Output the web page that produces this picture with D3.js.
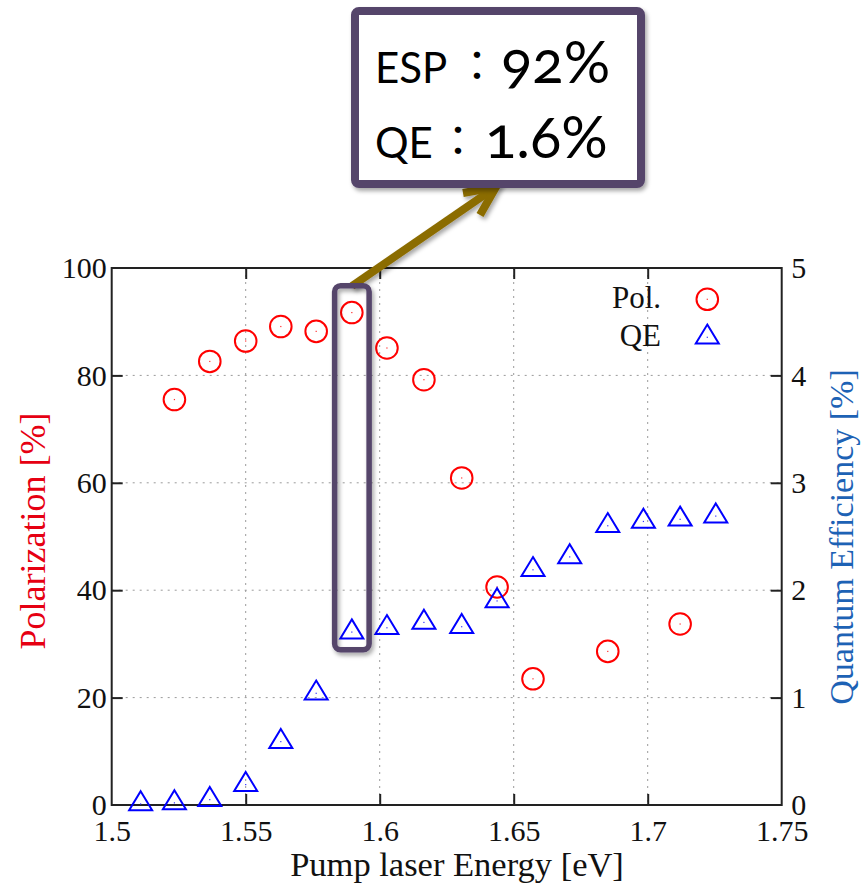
<!DOCTYPE html>
<html>
<head>
<meta charset="utf-8">
<script src="https://cdn.jsdelivr.net/npm/d3@7"></script>
<style>
  html, body { margin: 0; padding: 0; background: #fff; }
  svg { display: block; }
  .onum { font-variant-numeric: oldstyle-nums; font-feature-settings: "onum" 1; }
</style>
</head>
<body>
<svg id="chart" width="863" height="886"></svg>
<script>
// ---------- data ----------
const xTicks = [1.5, 1.55, 1.6, 1.65, 1.7, 1.75];
const xTickLabels = ["1.5", "1.55", "1.6", "1.65", "1.7", "1.75"];
const yTicks = [0, 20, 40, 60, 80, 100];
const yTickLabels = ["0", "20", "40", "60", "80", "100"];
const y2Ticks = [0, 1, 2, 3, 4, 5];
const y2TickLabels = ["0", "1", "2", "3", "4", "5"];

const polEnergy = [1.5234, 1.5366, 1.5500, 1.5631, 1.5763, 1.5896, 1.6027, 1.6165, 1.6306, 1.6438, 1.6572, 1.6851, 1.7121];
const polValue  = [75.5, 82.6, 86.4, 89.1, 88.2, 91.7, 85.1, 79.2, 60.9, 40.6, 23.5, 28.6, 33.7];

const qeEnergy = [1.5108, 1.5234, 1.5366, 1.5500, 1.5631, 1.5763, 1.5896, 1.6027, 1.6165, 1.6306, 1.6438, 1.6572, 1.6709, 1.6851, 1.6984, 1.7121, 1.7254];
const qeValue  = [0.01, 0.02, 0.05, 0.19, 0.59, 1.04, 1.61, 1.65, 1.70, 1.66, 1.90, 2.19, 2.31, 2.60, 2.64, 2.66, 2.69];

const legendLabels = ["Pol.", "QE"];
const xTitle = "Pump laser Energy [eV]";
const yTitle = "Polarization [%]";
const y2Title = "Quantum Efficiency [%]";
const highlightEnergy = 1.5896;
const noteLines = [["ESP", "92%"], ["QE", "1.6%"]];

// ---------- layout ----------
const L = 111.7, R = 781.7, T = 268, B = 805;
const serif = "'Liberation Serif', 'Times New Roman', serif";
const svg = d3.select("#chart");

const x = d3.scaleLinear().domain([1.5, 1.75]).range([L, R]);
const y = d3.scaleLinear().domain([0, 100]).range([B, T]);
const y2 = d3.scaleLinear().domain([0, 5]).range([B, T]);

const defs = svg.append("defs");
const sh = defs.append("filter").attr("id", "shadow").attr("x", "-20%").attr("y", "-20%").attr("width", "150%").attr("height", "150%");
sh.append("feDropShadow").attr("dx", 2).attr("dy", 3).attr("stdDeviation", 2).attr("flood-color", "#000").attr("flood-opacity", 0.35);

// grid
const grid = svg.append("g").attr("stroke", "#9a9a9a").attr("stroke-width", 1).attr("stroke-dasharray", "2,5");
grid.selectAll("line.gx").data(xTicks.slice(1, -1)).join("line")
  .attr("x1", d => x(d)).attr("x2", d => x(d)).attr("y1", T).attr("y2", B);
grid.selectAll("line.gy").data(yTicks.slice(1, -1)).join("line")
  .attr("y1", d => y(d)).attr("y2", d => y(d)).attr("x1", L).attr("x2", R);

// axes with inner ticks
const tickLen = 11;
const axB = svg.append("g").attr("transform", `translate(0,${B})`)
  .call(d3.axisBottom(x).tickValues(xTicks).tickSize(-tickLen).tickFormat((d, i) => xTickLabels[i]).tickPadding(15));
const axT = svg.append("g").attr("transform", `translate(0,${T})`)
  .call(d3.axisTop(x).tickValues(xTicks).tickSize(-tickLen).tickFormat(""));
const axL = svg.append("g").attr("transform", `translate(${L},0)`)
  .call(d3.axisLeft(y).tickValues(yTicks).tickSize(-tickLen).tickFormat((d, i) => yTickLabels[i]).tickPadding(5));
const axR = svg.append("g").attr("transform", `translate(${R},0)`)
  .call(d3.axisRight(y2).tickValues(y2Ticks).tickSize(-tickLen).tickFormat((d, i) => y2TickLabels[i]).tickPadding(9.5));

[axB, axT, axL, axR].forEach(a => {
  a.attr("font-family", serif).attr("font-size", 30);
  a.select(".domain").remove();
  a.selectAll(".tick line").attr("stroke", "#222").attr("stroke-width", 2);
  a.selectAll(".tick text").style("font-family", serif).style("font-size", "30px").attr("fill", "#111");
});
// hide end ticks at corners
axB.selectAll(".tick line").filter(d => d === 1.5 || d === 1.75).remove();
axT.selectAll(".tick line").filter(d => d === 1.5 || d === 1.75).remove();
axL.selectAll(".tick line").filter(d => d === 0 || d === 100).remove();
axR.selectAll(".tick line").filter(d => d === 0 || d === 5).remove();
axB.selectAll(".tick text").attr("dy", "0.71em");

// frame
svg.append("rect").attr("x", L).attr("y", T).attr("width", R - L).attr("height", B - T)
  .attr("fill", "none").attr("stroke", "#222").attr("stroke-width", 2);

// markers
const triPath = "M0,-12.7L11.5,6.3L-11.5,6.3Z";
const polG = svg.append("g");
polEnergy.forEach((e, i) => {
  polG.append("circle").attr("cx", x(e)).attr("cy", y(polValue[i])).attr("r", 10.8)
    .attr("fill", "none").attr("stroke", "#ff0000").attr("stroke-width", 2);
  polG.append("rect").attr("x", x(e) - 0.6).attr("y", y(polValue[i]) - 0.6).attr("width", 1.2).attr("height", 1.2).attr("fill", "#ff3030");
});
const qeG = svg.append("g");
qeEnergy.forEach((e, i) => {
  qeG.append("path").attr("d", triPath).attr("transform", `translate(${x(e)},${y2(qeValue[i])})`)
    .attr("fill", "none").attr("stroke", "#0000ff").attr("stroke-width", 2).attr("stroke-linejoin", "miter");
  qeG.append("rect").attr("x", x(e) - 0.6).attr("y", y2(qeValue[i]) - 0.6).attr("width", 1.2).attr("height", 1.2).attr("fill", "#3030ff");
});

// legend
svg.append("text").attr("x", 661).attr("y", 308).attr("text-anchor", "end")
  .style("font-family", serif).style("font-size", "31px").attr("fill", "#111").text(legendLabels[0]);
svg.append("text").attr("x", 661).attr("y", 346).attr("text-anchor", "end")
  .style("font-family", serif).style("font-size", "31px").attr("fill", "#111").text(legendLabels[1]);
svg.append("circle").attr("cx", 707.3).attr("cy", 299.3).attr("r", 10.8)
  .attr("fill", "none").attr("stroke", "#ff0000").attr("stroke-width", 2);
svg.append("rect").attr("x", 706.7).attr("y", 298.7).attr("width", 1.2).attr("height", 1.2).attr("fill", "#ff3030");
svg.append("path").attr("d", triPath).attr("transform", "translate(707.3,337.3)")
  .attr("fill", "none").attr("stroke", "#0000ff").attr("stroke-width", 2);
svg.append("rect").attr("x", 706.7).attr("y", 336.7).attr("width", 1.2).attr("height", 1.2).attr("fill", "#3030ff");

// axis titles
svg.append("text").attr("x", 457).attr("y", 876).attr("text-anchor", "middle")
  .style("font-family", serif).style("font-size", "34.5px").attr("fill", "#111").text(xTitle);
svg.append("text").attr("transform", "translate(45,531) rotate(-90)").attr("text-anchor", "middle")
  .style("font-family", serif).style("font-size", "36px").attr("fill", "#e60012").text(yTitle);
svg.append("text").attr("transform", "translate(853,537) rotate(-90)").attr("text-anchor", "middle")
  .style("font-family", serif).style("font-size", "34px").attr("fill", "#1d62b5").text(y2Title);

// ---------- annotation ----------
const purple = "#55456b";
const gold = "#8b6c00";
// arrow
const arrowG = svg.append("g").attr("filter", "url(#shadow)");
arrowG.append("line").attr("x1", 352).attr("y1", 286).attr("x2", 493).attr("y2", 189)
  .attr("stroke", gold).attr("stroke-width", 8);
arrowG.append("path").attr("d", "M463,193L496,187L480,215")
  .attr("fill", "none").attr("stroke", gold).attr("stroke-width", 8).attr("stroke-linejoin", "miter").attr("stroke-linecap", "butt");

// highlight box around x = highlightEnergy (computed via scales)
const hx = x(highlightEnergy);
svg.append("rect").attr("x", hx - 17.2).attr("y", y(96.7)).attr("width", 34.5).attr("height", y(28.9) - y(96.7))
  .attr("rx", 6).attr("ry", 6).attr("fill", "none").attr("stroke", purple).attr("stroke-width", 5.5)
  .attr("filter", "url(#shadow)");

// note box
svg.append("rect").attr("x", 355).attr("y", 11).attr("width", 286).attr("height", 173)
  .attr("rx", 4).attr("ry", 4).attr("fill", "#fff").attr("stroke", purple).attr("stroke-width", 8)
  .attr("filter", "url(#shadow)");

const sans = "Lato, 'Noto Sans', sans-serif";
const cjk = "'Noto Sans CJK JP', 'Noto Sans CJK SC', sans-serif";
const noteY = [83, 158];
const colonX = [456, 437];
const valX = [501, 485];
noteLines.forEach((ln, i) => {
  svg.append("text").attr("x", 375).attr("y", noteY[i]).style("font-family", sans).style("font-size", "42px")
    .attr("fill", "#000").text(ln[0]);
  svg.append("text").attr("x", colonX[i]).attr("y", noteY[i] - 2).style("font-family", cjk).style("font-size", "42px")
    .attr("fill", "#000").text("：");
  svg.append("text").attr("class", "onum").attr("x", valX[i]).attr("y", noteY[i]).style("font-family", sans).style("font-size", "58px")
    .attr("fill", "#000").text(ln[1]);
});
</script>
</body>
</html>
